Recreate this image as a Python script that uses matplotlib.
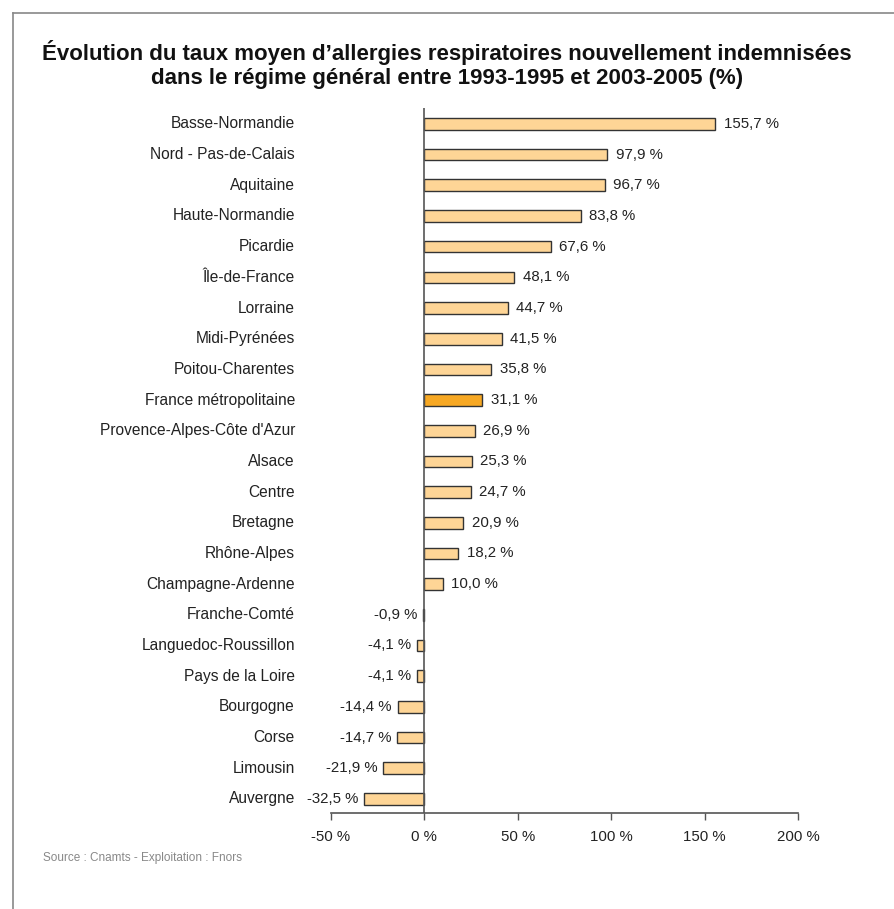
import matplotlib
matplotlib.use("Agg")
import matplotlib.pyplot as plt
from matplotlib.lines import Line2D

plt.rcParams['font.family'] = ['Liberation Sans', 'DejaVu Sans']

regions = [
    "Basse-Normandie", "Nord - Pas-de-Calais", "Aquitaine", "Haute-Normandie",
    "Picardie", "Île-de-France", "Lorraine", "Midi-Pyrénées", "Poitou-Charentes",
    "France métropolitaine", "Provence-Alpes-Côte d'Azur", "Alsace", "Centre",
    "Bretagne", "Rhône-Alpes", "Champagne-Ardenne", "Franche-Comté",
    "Languedoc-Roussillon", "Pays de la Loire", "Bourgogne", "Corse",
    "Limousin", "Auvergne",
]
values = [
    155.7, 97.9, 96.7, 83.8, 67.6, 48.1, 44.7, 41.5, 35.8, 31.1, 26.9, 25.3,
    24.7, 20.9, 18.2, 10.0, -0.9, -4.1, -4.1, -14.4, -14.7, -21.9, -32.5,
]
highlight = "France métropolitaine"
x_ticks = [-50, 0, 50, 100, 150, 200]

W, H = 894, 909
fig = plt.figure(figsize=(W / 100, H / 100), dpi=100)
ax = fig.add_axes([331 / W, 1 - 813 / H, (798 - 331) / W, (813 - 108) / H])

n = len(values)
ypos = list(range(n))
colors = ["#F7A823" if r == highlight else "#FED596" for r in regions]
ax.barh(ypos, values, height=0.38, color=colors, edgecolor="#333333",
        linewidth=1.0, zorder=2)

ax.set_xlim(-50, 200)
ax.set_ylim(n - 1 + 0.46, -0.52)

# value labels beside each bar
for y, v in zip(ypos, values):
    txt = f"{v:.1f}".replace(".", ",") + " %"
    if v >= 0:
        ax.annotate(txt, (v, y), xytext=(6, 0), textcoords="offset points",
                    ha="left", va="center", fontsize=10.8, color="#222222")
    else:
        ax.annotate(txt, (v, y), xytext=(-4, 0), textcoords="offset points",
                    ha="right", va="center", fontsize=10.8, color="#222222")

# category labels, right-aligned in a fixed column
label_x = 295 / W
for y, r in zip(ypos, regions):
    yd = ax.transData.transform((0, y))[1]
    yf = fig.transFigure.inverted().transform((0, yd))[1]
    fig.text(label_x, yf, r, ha="right", va="center", fontsize=11.2,
             color="#222222")

# axes: zero line and bottom axis only
for s in ["top", "right", "left"]:
    ax.spines[s].set_visible(False)
ax.spines["bottom"].set_color("#555555")
ax.spines["bottom"].set_linewidth(1.2)
ax.axvline(0, color="#555555", linewidth=1.2, zorder=3)
ax.set_yticks([])
ax.set_xticks(x_ticks)
ax.set_xticklabels([f"{t} %" for t in x_ticks], fontsize=10.8, color="#222222")
ax.tick_params(axis="x", direction="out", length=5, width=1, color="#555555",
               pad=7)

fig.text(0.5, 1 - 60 / H,
         "Évolution du taux moyen d’allergies respiratoires nouvellement indemnisées",
         ha="center", va="baseline", fontsize=16, fontweight="bold", color="#111111")
fig.text(0.5, 1 - 84 / H,
         "dans le régime général entre 1993-1995 et 2003-2005 (%)",
         ha="center", va="baseline", fontsize=16, fontweight="bold", color="#111111")

fig.text(43 / W, 1 - 858 / H, "Source : Cnamts - Exploitation : Fnors",
         ha="left", va="center", fontsize=8.5, color="#888888")

# frame around the panel (top and left edges)
fig.add_artist(Line2D([13 / W, 1.0], [1 - 13 / H, 1 - 13 / H],
                      transform=fig.transFigure, color="#888888", linewidth=1.2))
fig.add_artist(Line2D([13 / W, 13 / W], [1 - 13 / H, 0.0],
                      transform=fig.transFigure, color="#888888", linewidth=1.2))

fig.savefig("out.png", dpi=100)
